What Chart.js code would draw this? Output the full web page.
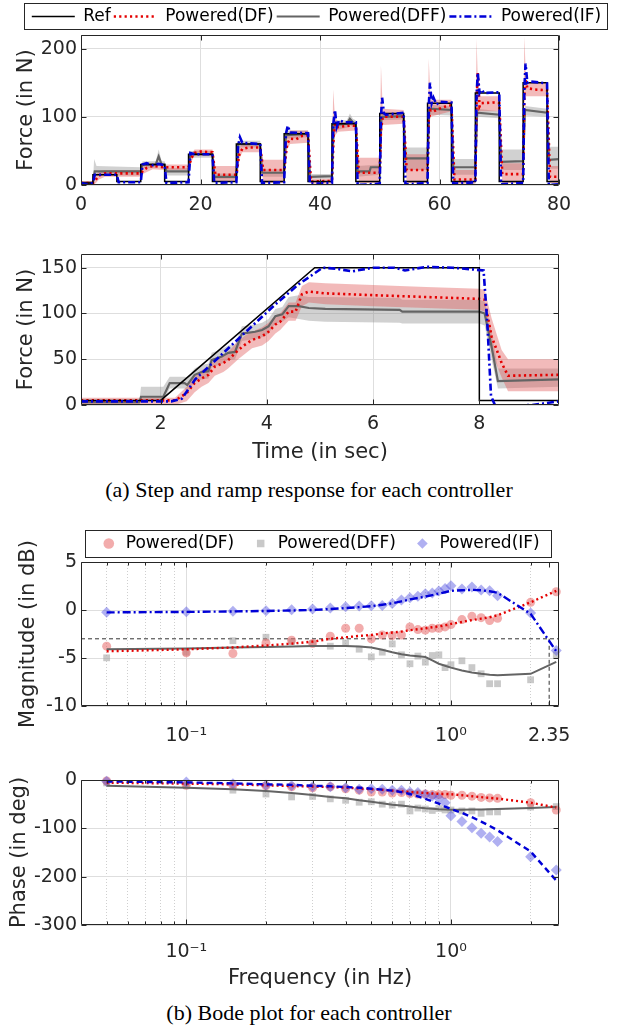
<!DOCTYPE html>
<html><head><meta charset="utf-8">
<script src="https://cdn.jsdelivr.net/npm/chart.js@4.4.0/dist/chart.umd.min.js"></script>
<style>
html,body{margin:0;padding:0;background:#fff;overflow:hidden;width:618px;height:1027px;}
.wrap{position:relative;width:618px;height:1027px;overflow:hidden;background:#fff;}
canvas{position:absolute;}
.cap{position:absolute;left:0;width:618px;text-align:center;font-family:'Liberation Serif','Times New Roman',serif;font-size:22px;line-height:24px;color:#000;}
</style></head><body>
<div class="wrap">
<canvas id="c1" style="left:0;top:0px" width="633" height="215"></canvas>
<canvas id="c2" style="left:0;top:215px" width="618" height="250"></canvas>
<div class="cap" style="top:478px">(a) Step and ramp response for each controller</div>
<canvas id="c3" style="left:0;top:505px" width="640" height="245"></canvas>
<canvas id="c4" style="left:0;top:750px" width="618" height="250"></canvas>
<div class="cap" style="top:1001px">(b) Bode plot for each controller</div>
</div>
<script>
// ---------------- DATA ----------------
// (a) top: step response, [time s, force N]
const stepRef = [[0,3],[2,3],[2,15],[6,15],[6,5],[10,5],[10,30],[14,30],[14,5],[18,5],[18,45],[22,45],[22,5],[26,5],[26,60],[30,60],[30,5],[34,5],[34,75],[38,75],[38,5],[42,5],[42,90],[46,90],[46,5],[50,5],[50,105],[54,105],[54,5],[58,5],[58,120],[62,120],[62,5],[66,5],[66,135],[70,135],[70,5],[74,5],[74,150],[78,150],[78,5],[80,5]];
const stepIF = [[0,3],[1,1],[2,3],[2.3,15],[6,15],[6.3,4],[10,4],[10.3,30],[11,32],[12,29],[13,31],[14,29],[14.3,3],[18,4],[18.3,47],[19,45],[22,45],[22.3,3],[26,4],[26.3,58],[26.6,70],[27,62],[30,60],[30.3,3],[34,4],[34.3,75],[34.6,87],[35,77],[38,76],[38.3,2],[42,3],[42.2,88],[42.5,110],[42.8,85],[43.2,95],[44,92],[46,92],[46.3,0],[50,2],[50.2,100],[50.4,128],[50.7,105],[51,103],[54,106],[54.3,1],[58,3],[58.2,115],[58.4,150],[58.7,120],[59,128],[59.5,118],[60,122],[62,121],[62.3,2],[66,4],[66.2,130],[66.4,165],[66.7,135],[67,140],[67.5,135],[70,136],[70.3,1],[74,3],[74.2,140],[74.4,178],[74.7,150],[75,152],[78,149],[78.3,0],[80,1]];
const stepDF = [[0,3],[2,3],[2.5,8],[3,14],[4,17],[10,17],[10.5,22],[11,25],[12,28],[13,27],[14,26],[18,26],[18.5,40],[19,47],[20,49],[22,48],[22.5,15],[26,15],[26.5,45],[27,53],[28,55],[30,55],[30.5,22],[34,22],[34.5,60],[35,68],[36,67],[37,72],[38,73],[38.5,5],[42,6],[42.3,75],[42.6,90],[43,85],[45,87],[46,87],[46.5,18],[50,18],[50.2,80],[50.5,100],[52,100],[54,100],[54.5,22],[58,22],[58.2,95],[58.5,110],[59,108],[60,112],[61,115],[62,117],[62.5,8],[66,8],[66.2,120],[66.4,165],[66.7,115],[67,120],[69,121],[70,120],[70.5,16],[74,16],[74.2,130],[74.4,155],[74.7,142],[76,140],[78,139],[78.5,12],[80,12]];
const stepDFF = [[0,3],[2,3],[2.3,20],[10,20],[10.3,30],[12.5,30],[13,42],[13.5,30],[14,30],[14.3,20],[18,20],[18.3,45],[22,45],[22.3,12],[26,12],[26.3,60],[30,60],[30.3,18],[34,18],[34.3,73],[38,75],[38.3,12],[42,13],[42.3,88],[44.5,90],[45,97],[45.5,92],[46,90],[46.3,20],[48.3,20],[48.5,26],[50,26],[50.3,100],[54,101],[54.3,39],[58,39],[58.3,112],[62,110],[62.3,26],[66,26],[66.3,106],[70,103],[70.3,34],[74,35],[74.3,110],[78,106],[78.3,37],[80,38]];
const stepBandDF_T  = [0,2,2.5,3,4,10,10.5,12,14,18,18.5,19,22,22.5,26,26.5,27,30,30.5,34,34.5,35,38,38.5,42,42.2,42.5,43,46,46.5,50,50.2,50.5,54,54.5,58,58.2,58.5,62,62.5,66,66.2,66.5,70,70.5,74,74.2,74.5,78,78.5,80];
const stepBandDF_Hi = [6,6,15,20,22,22,28,32,30,30,45,52,52,28,28,55,60,60,37,37,72,80,80,9,9,140,100,92,92,40,40,175,112,110,45,45,185,125,125,22,22,215,130,130,32,32,218,150,150,28,28];
const stepBandDF_Lo = [0,0,3,8,12,12,17,23,22,22,35,43,43,5,5,38,48,48,3,3,52,60,62,2,2,65,72,78,80,3,3,70,88,90,3,3,90,100,108,2,2,105,108,108,3,3,120,130,130,3,3];
const stepBandDFF_T  = [0,2,2.2,2.6,10,10.3,12.5,13,13.5,14,14.3,18,18.3,22,22.3,26,26.3,30,30.3,34,34.3,38,38.3,42,42.3,44.5,45,45.5,46,46.3,50,50.3,54,54.3,58,58.3,62,62.3,66,66.3,70,70.3,74,74.3,78,78.3,80];
const stepBandDFF_Hi = [6,6,38,28,26,35,35,52,35,35,25,25,50,50,17,17,65,65,23,23,80,80,16,16,95,95,105,97,95,28,30,106,106,55,55,118,115,38,38,112,108,52,52,116,112,56,56];
const stepBandDFF_Lo = [0,0,10,14,14,25,25,32,25,25,14,14,40,40,8,8,55,55,12,12,68,70,9,9,80,84,88,85,84,12,15,95,96,22,22,103,102,15,15,100,98,22,22,102,100,24,24];

// (a) bottom: ramp response
const rampRef = [[0.5,5],[2,5],[4.9,150],[8,150],[8,5],[9.5,5]];
const rampIF = [[0.5,4],[2.2,4],[2.4,7],[2.65,28],[3.2,58],[4.16,110],[4.6,132],[5.05,150],[5.3,149],[5.6,146],[6,150],[6.4,150],[6.6,147],[7,151],[7.5,150],[7.9,148],[8.08,147],[8.15,90],[8.22,10],[8.3,-1],[9.0,0],[9.5,4]];
const rampDF_T  = [0.5,2.27,2.49,2.64,2.77,2.9,3.02,3.18,3.27,3.46,3.59,3.72,3.91,4.03,4.16,4.25,4.41,4.54,4.66,4.79,5.1,6,7,8,8.1,8.23,8.42,8.54,9.5];
const rampDF    = [5,5,13,24,29,33,42,46,49,60,66,71,75,80,88,91,102,102,121,124,122,120,118,116,115,75,46,32,33];
const rampDF_Hi = [8,8,20,32,38,42,50,55,58,70,76,80,85,90,98,100,112,112,130,134,133,131,129,127,126,95,60,50,50];
const rampDF_Lo = [0,0,4,14,20,24,32,36,40,50,56,62,65,70,78,82,92,92,108,112,110,108,106,104,102,58,30,15,15];
const rampDFF_T  = [0.5,1.6,1.63,2.05,2.17,2.45,2.5,2.64,2.77,2.9,2.96,3.15,3.27,3.4,3.53,3.78,3.91,4.03,4.16,4.29,4.41,4.6,4.79,5.1,6.5,6.55,8,8.1,8.23,8.35,9.5];
const rampDFF    = [3,3,9,9,24,24,22,33,36,37,49,53,57,58,78,80,82,86,97,99,108,108,106,105,104,102,102,100,64,26,28];
const rampDFF_Hi = [5,5,20,20,31,31,30,40,44,45,57,61,65,66,86,88,90,94,105,107,118,120,118,118,117,115,115,113,80,40,40];
const rampDFF_Lo = [1,1,4,4,18,18,14,25,28,29,41,45,49,50,70,72,74,78,89,91,96,94,92,91,90,89,89,87,50,18,20];

// (b) Bode data
const freqHz = [0.05,0.1,0.15,0.2,0.25,0.3,0.35,0.4,0.45,0.5,0.55,0.6,0.65,0.7,0.75,0.8,0.85,0.9,0.95,1.0,1.1,1.2,1.3,1.4,1.5,2.0,2.5];
const magDF  = [-3.77,-4.46,-4.53,-3.43,-3.15,-3.5,-2.73,-1.9,-1.9,-3.0,-2.6,-2.66,-2.6,-1.76,-2.04,-2.1,-1.9,-1.9,-1.76,-1.52,-1.0,-0.66,-0.8,-1.1,-0.87,0.8,1.9];
const magDFF = [-4.98,-4.4,-3.2,-2.84,-3.3,-3.5,-3.77,-3.43,-4.08,-4.88,-4.39,-3.53,-4.67,-5.6,-4.8,-5.43,-4.74,-4.67,-6.0,-5.7,-5.29,-6.0,-6.64,-7.68,-7.68,-7.27,-4.67];
const magIF  = [-0.24,-0.17,-0.14,-0.07,0.03,0.1,0.21,0.35,0.42,0.45,0.48,0.69,1.04,1.28,1.42,1.7,1.77,1.97,2.25,2.53,2.18,2.39,2.08,2.01,1.49,-0.31,-4.22];
const magFitDF  = [-4.3,-4.1,-3.9,-3.7,-3.5,-3.3,-3.0,-2.85,-2.7,-2.6,-2.45,-2.35,-2.25,-2.1,-2.0,-1.9,-1.8,-1.7,-1.6,-1.45,-1.25,-1.05,-0.9,-0.75,-0.55,0.8,2.0];
const magFitDFF = [-4.1,-4.0,-3.9,-3.85,-3.8,-3.75,-3.75,-3.75,-3.8,-3.9,-4.15,-4.4,-4.6,-4.75,-4.82,-4.9,-5.25,-5.6,-5.8,-6.0,-6.3,-6.5,-6.65,-6.75,-6.8,-6.65,-5.4];
const magFitIF  = [-0.25,-0.2,-0.15,-0.1,-0.05,0.0,0.1,0.2,0.3,0.4,0.55,0.7,0.9,1.1,1.25,1.4,1.55,1.7,1.85,2.0,2.05,2.1,2.05,1.95,1.8,-0.4,-4.3];
const phaseDF  = [-2,-11,-11,-12,-14,-16,-14,-18,-21,-25,-25,-27,-26,-28,-29,-29,-30,-30,-30,-31.5,-31.5,-33.5,-36,-37,-38,-47,-62];
const phaseDFF = [-6,-12,-21,-29,-35,-34,-39,-42,-46,-45,-50,-52,-50,-64,-58,-60,-63,-59,-62,-62,-64,-64,-69,-66,-66,-56,-55];
const phaseIF  = [-2.7,-4,-7.5,-11,-12,-14,-14,-16,-19,-18,-19,-21,-21,-25,-26,-30,-33,-38,-47,-74,-86,-99,-110,-118,-127,-159,-186];
const phaseFitDF  = [-5.5,-7.5,-9,-11,-12.5,-13.5,-14.5,-16,-17.5,-19,-20.5,-22,-23.5,-25,-26,-27,-28,-28.5,-29,-29.5,-31.5,-33.5,-35.5,-37,-38.5,-47,-57];
const phaseFitDFF = [-12,-16,-19,-23,-27,-31,-35,-38,-42,-45,-48,-51,-53,-55,-57,-58.5,-59.5,-60.5,-61,-61.5,-61.5,-61,-61,-60.5,-60,-58,-56];
const phaseFitIF  = [-3,-5,-7,-9,-10,-12,-13,-14.5,-16,-18,-20,-22,-25,-29,-34,-39,-44,-49,-55,-60,-68,-77,-86,-95,-104,-148,-208];
const threshDb = -3;
const bandwidthHz = 2.35;

// tick values / labels
const stepTicksX = [0,20,40,60,80];
const stepTicksY = [0,100,200];
const rampTicksX = [2,4,6,8];
const rampTicksY = [0,50,100,150];
const magTicksY = [-10,-5,0,5];
const phaseTicksY = [-300,-200,-100,0];
const magTicksX = [0.1,1,2.35];
const magTickLabels = ['10\u207B\u00B9','10\u2070','2.35'];
const phaseTicksX = [0.1,1];
const phaseTickLabels = ['10\u207B\u00B9','10\u2070'];
const minorTicksX = [0.05,0.06,0.07,0.08,0.09,0.2,0.3,0.4,0.5,0.6,0.7,0.8,0.9,2];

// ---------------- STYLE / HELPERS ----------------
const FONT = "'DejaVu Sans', sans-serif";
Chart.defaults.font.family = FONT;
Chart.defaults.color = '#262626';
Chart.defaults.animation = false;

const C_RED = 'rgb(228,0,0)', C_GRAY = 'rgb(100,100,100)', C_BLUE = 'rgb(0,0,215)';
const TICKF = {size:19}, TITLEF = {size:21};
const GRID = '#dedede';
const F_MIN = 0.04, F_MAX = 2.56;

const pairsXY = a => a.map(p => ({x:p[0], y:p[1]}));
const zipXY = (t, v) => t.map((x,i) => ({x, y:v[i]}));

function lineDS(label, data, color, w, dash, order){
  return {label, data, borderColor: color, backgroundColor: color, borderWidth: w, borderDash: dash,
    pointRadius: 0, pointHoverRadius: 0, fill: false, order, pointStyle: 'line', borderJoinStyle: 'miter'};
}
function bandPair(data1, data2, color){
  return [
    {label:'_band', data: data1, borderColor:'rgba(0,0,0,0)', borderWidth:0, pointRadius:0, fill:false, order: 8},
    {label:'_band', data: data2, borderColor:'rgba(0,0,0,0)', borderWidth:0, pointRadius:0, fill:'-1', backgroundColor: color, order: 8}
  ];
}
function ptsDS(label, data, style, r, color, order){
  return {label, data, showLine:false, pointStyle: style, pointRadius: r, pointHoverRadius: r,
    pointBackgroundColor: color, pointBorderWidth: 0, pointBorderColor: 'rgba(0,0,0,0)', borderColor: color, order, clip: 12};
}

// MATLAB-like box with inner ticks
const boxPlugin = {
  id: 'mbox',
  afterDatasetsDraw(chart){
    const {ctx, chartArea: a, scales} = chart;
    ctx.save();
    ctx.strokeStyle = '#262626';
    ctx.lineWidth = 1;
    const L = Math.round(a.left)+0.5, R = Math.round(a.right)-0.5, T = Math.round(a.top)+0.5, B = Math.round(a.bottom)-0.5;
    ctx.beginPath();
    ctx.rect(L, T, R-L, B-T);
    const tk = (scale, len, horiz) => {
      scale.ticks.forEach(t => {
        const p = Math.round(scale.getPixelForValue(t.value)) + 0.5;
        if (horiz) { ctx.moveTo(p, B); ctx.lineTo(p, B-len); ctx.moveTo(p, T); ctx.lineTo(p, T+len); }
        else { ctx.moveTo(L, p); ctx.lineTo(L+len, p); ctx.moveTo(R, p); ctx.lineTo(R-len, p); }
      });
    };
    tk(scales.x, 5, true);
    tk(scales.y, 5, false);
    if (scales.x2) tk(scales.x2, 3, true);
    ctx.stroke();
    ctx.restore();
  }
};
function legendFix(h, y0, y1, dl, dr){
  return {
    id: 'legendFix',
    afterInit(chart){
      const lg = chart.legend; if (!lg) return;
      const f = lg.fit;
      lg.fit = function(){ f.call(this); this.height = h; };
    },
    afterDraw(chart){
      const hb = chart.legend && chart.legend.legendHitBoxes;
      if (!hb || !hb.length) return;
      const l = Math.min(...hb.map(b => b.left)) - dl;
      const r = Math.max(...hb.map(b => b.left + b.width)) + dr;
      const ctx = chart.ctx;
      ctx.save(); ctx.strokeStyle = '#262626'; ctx.lineWidth = 1;
      ctx.strokeRect(Math.round(l)+0.5, y0+0.5, Math.round(r-l), y1-y0);
      ctx.restore();
    }
  };
}
function rightPad(w){
  return {type:'linear', position:'right', ticks:{display:false}, grid:{display:false}, border:{display:false}, afterFit(s){ s.width = w; }};
}
function yAxis(min, max, tickVals, title, titlePad){
  return {type:'linear', min, max, position:'left',
    afterBuildTicks(s){ s.ticks = tickVals.map(v => ({value:v})); },
    ticks:{font: TICKF, color:'#262626', padding: 4},
    grid:{color: GRID, drawTicks:false}, border:{display:false},
    title:{display:true, text:title, font: TITLEF, color:'#262626', padding:{top: titlePad, bottom:0}},
    afterFit(s){ s.width = 81; }};
}
function logMinor(){
  return {type:'logarithmic', min:F_MIN, max:F_MAX, position:'bottom',
    afterBuildTicks(s){ s.ticks = minorTicksX.map(v => ({value:v})); },
    ticks:{display:false}, grid:{color:'#cfcfcf', drawTicks:false}, border:{display:false, dash:[1,2]},
    afterFit(s){ s.height = 0; }};
}
function logMajor(vals, labels, h, pad, title){
  const ax = {type:'logarithmic', min:F_MIN, max:F_MAX, position:'bottom',
    afterBuildTicks(s){ s.ticks = vals.map(v => ({value:v})); },
    ticks:{font: TICKF, color:'#262626', padding: pad, autoSkip:false, maxRotation:0,
      callback:(v, i) => labels[i]},
    grid:{color: ctx => (ctx.tick && Math.abs(ctx.tick.value - bandwidthHz) < 1e-6) ? 'rgba(0,0,0,0)' : GRID, drawTicks:false},
    border:{display:false},
    afterFit(s){ s.height = h; }};
  if (title) ax.title = {display:true, text:title, font: TITLEF, color:'#262626', padding:{top:0, bottom:9}};
  return ax;
}
const lineLegendLabels = chart => chart.data.datasets.map((d,i) => ({
  text: d.label, datasetIndex: i, strokeStyle: d.borderColor, fillStyle: d.borderColor,
  lineWidth: d.borderWidth, lineDash: d.borderDash || [], pointStyle: 'line', hidden: false, fontColor: '#000'
})).filter(it => !it.text.startsWith('_'));
const pointLegendLabels = chart => chart.data.datasets.map((d,i) => ({
  text: d.label, datasetIndex: i, strokeStyle: 'rgba(0,0,0,0)', fillStyle: d.pointBackgroundColor,
  lineWidth: 0, pointStyle: d.pointStyle, hidden: false, fontColor: '#000'
})).filter(it => !it.text.startsWith('_'));

const baseOpts = {responsive:false, animation:false, events:[], layout:{autoPadding:false}};

// ---------------- CHART 1: step response ----------------
new Chart(document.getElementById('c1'), {
  type: 'line',
  data: {datasets: [
    lineDS('Ref', pairsXY(stepRef), '#000', 1.5, [], 1),
    lineDS('Powered(DF)', pairsXY(stepDF), C_RED, 2.6, [2.2,3.2], 2),
    lineDS('Powered(DFF)', pairsXY(stepDFF), C_GRAY, 2.2, [], 3),
    lineDS('Powered(IF)', pairsXY(stepIF), C_BLUE, 2.6, [7,3,2,3], 0),
    ...bandPair(zipXY(stepBandDF_T, stepBandDF_Hi), zipXY(stepBandDF_T, stepBandDF_Lo), 'rgba(225,90,90,0.42)'),
    ...bandPair(zipXY(stepBandDFF_T, stepBandDFF_Hi), zipXY(stepBandDFF_T, stepBandDFF_Lo), 'rgba(140,140,140,0.4)')
  ]},
  options: {...baseOpts,
    layout:{autoPadding:false, padding:{top:5, left:0, right:0, bottom:0}},
    plugins:{tooltip:{enabled:false},
      legend:{display:true, position:'top', labels:{font:{size:17}, color:'#000', usePointStyle:true, pointStyleWidth:43, padding:3, generateLabels: lineLegendLabels}}},
    scales:{
      x:{type:'linear', min:0, max:80, afterBuildTicks(s){ s.ticks = stepTicksX.map(v=>({value:v})); },
        ticks:{font:TICKF, color:'#262626', padding:9, maxRotation:0}, grid:{color:GRID, drawTicks:false}, border:{display:false},
        afterFit(s){ s.height = 30; }},
      y: yAxis(0, 220, stepTicksY, 'Force (in N)', 14),
      yR: rightPad(74)
    }},
  plugins:[boxPlugin, legendFix(30, 3, 29, 8, 6)]
});

// ---------------- CHART 2: ramp response ----------------
new Chart(document.getElementById('c2'), {
  type: 'line',
  data: {datasets: [
    lineDS('Ref', pairsXY(rampRef), '#000', 1.5, [], 1),
    lineDS('Powered(DF)', zipXY(rampDF_T, rampDF), C_RED, 2.6, [2.2,3.2], 2),
    lineDS('Powered(DFF)', zipXY(rampDFF_T, rampDFF), C_GRAY, 2.2, [], 3),
    lineDS('Powered(IF)', pairsXY(rampIF), C_BLUE, 2.6, [7,3,2,3], 0),
    ...bandPair(zipXY(rampDF_T, rampDF_Hi), zipXY(rampDF_T, rampDF_Lo), 'rgba(225,90,90,0.42)'),
    ...bandPair(zipXY(rampDFF_T, rampDFF_Hi), zipXY(rampDFF_T, rampDFF_Lo), 'rgba(140,140,140,0.4)')
  ]},
  options: {...baseOpts,
    layout:{autoPadding:false, padding:{top:39, left:0, right:0, bottom:0}},
    plugins:{tooltip:{enabled:false}, legend:{display:false}},
    scales:{
      x:{type:'linear', min:0.5, max:9.5, afterBuildTicks(s){ s.ticks = rampTicksX.map(v=>({value:v})); },
        ticks:{font:TICKF, color:'#262626', padding:8, maxRotation:0}, grid:{color:GRID, drawTicks:false}, border:{display:false},
        title:{display:true, text:'Time (in sec)', font:TITLEF, color:'#262626', padding:{top:0, bottom:0}},
        afterFit(s){ s.height = 60; }},
      y: yAxis(0, 165, rampTicksY, 'Force (in N)', 14),
      yR: rightPad(59)
    }},
  plugins:[boxPlugin]
});

// ---------------- CHART 3: magnitude ----------------
new Chart(document.getElementById('c3'), {
  type: 'line',
  data: {datasets: [
    ptsDS('Powered(DF)', zipXY(freqHz, magDF), 'circle', 4.5, 'rgba(230,90,90,0.5)', 5),
    ptsDS('Powered(DFF)', zipXY(freqHz, magDFF), 'rect', 4.8, 'rgba(165,165,165,0.6)', 6),
    ptsDS('Powered(IF)', zipXY(freqHz, magIF), 'rectRot', 5.5, 'rgba(80,80,225,0.45)', 4),
    lineDS('_fitDF', zipXY(freqHz, magFitDF), C_RED, 2.4, [2,3], 2),
    lineDS('_fitDFF', zipXY(freqHz, magFitDFF), C_GRAY, 2, [], 3),
    lineDS('_fitIF', zipXY(freqHz, magFitIF), C_BLUE, 2.4, [8,3,2,3], 1),
    lineDS('_thr', [{x:F_MIN, y:threshDb},{x:F_MAX, y:threshDb}], '#333', 1, [4,3], 7),
    lineDS('_bw', [{x:bandwidthHz, y:threshDb},{x:bandwidthHz, y:-10}], '#333', 1, [4,3], 7)
  ]},
  options: {...baseOpts,
    layout:{autoPadding:false, padding:{top:12, left:0, right:0, bottom:0}},
    plugins:{tooltip:{enabled:false},
      legend:{display:true, position:'top', labels:{font:{size:17}, color:'#000', usePointStyle:true, boxHeight:7.5, padding:18, generateLabels: pointLegendLabels}}},
    scales:{
      x: logMajor(magTicksX, magTickLabels, 44, 19, null),
      x2: logMinor(),
      y: yAxis(-10, 5, magTicksY, 'Magnitude (in dB)', 16),
      yR: rightPad(81)
    }},
  plugins:[boxPlugin, legendFix(45, 25, 52, 15, 12)]
});

// ---------------- CHART 4: phase ----------------
new Chart(document.getElementById('c4'), {
  type: 'line',
  data: {datasets: [
    ptsDS('Powered(DF)', zipXY(freqHz, phaseDF), 'circle', 4.5, 'rgba(230,90,90,0.5)', 5),
    ptsDS('Powered(DFF)', zipXY(freqHz, phaseDFF), 'rect', 4.8, 'rgba(165,165,165,0.6)', 6),
    ptsDS('Powered(IF)', zipXY(freqHz, phaseIF), 'rectRot', 5.5, 'rgba(80,80,225,0.45)', 4),
    lineDS('_fitDF', zipXY(freqHz, phaseFitDF), C_RED, 2.4, [2,3], 2),
    lineDS('_fitDFF', zipXY(freqHz, phaseFitDFF), C_GRAY, 2, [], 3),
    lineDS('_fitIF', zipXY(freqHz, phaseFitIF), C_BLUE, 2.4, [6,4], 1)
  ]},
  options: {...baseOpts,
    layout:{autoPadding:false, padding:{top:30, left:0, right:0, bottom:0}},
    plugins:{tooltip:{enabled:false}, legend:{display:false}},
    scales:{
      x: logMajor(phaseTicksX, phaseTickLabels, 75, 16, 'Frequency (in Hz)'),
      x2: logMinor(),
      y: yAxis(-300, 0, phaseTicksY, 'Phase (in deg)', 7),
      yR: rightPad(59)
    }},
  plugins:[boxPlugin]
});
</script>
</body></html>
